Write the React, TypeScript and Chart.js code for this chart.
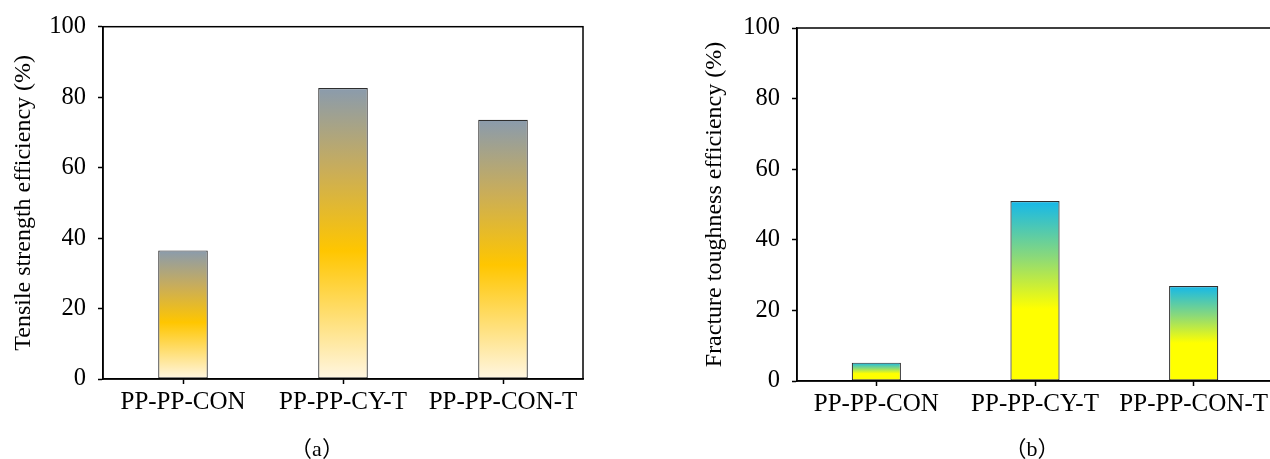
import React, { useEffect, useRef } from "react";
import { Chart, registerables } from "chart.js";

Chart.register(...registerables);

const categories = ["PP-PP-CON", "PP-PP-CY-T", "PP-PP-CON-T"];
const tensileEfficiency = [36.5, 82.6, 73.6];
const toughnessEfficiency = [5.2, 51.0, 26.9];
const yTicksMin = 0;
const yTicksMax = 100;
const yTickStep = 20;
const titleA = "Tensile strength efficiency (%)";
const titleB = "Fracture toughness efficiency (%)";
const captionA = "（a）";
const captionB = "（b）";

const gradA: [number, string][] = [
  [0, "#fff6e2"],
  [0.44, "#ffc600"],
  [0.72, "#c9ad5a"],
  [1, "#8a9bad"],
];
const gradB: [number, string][] = [
  [0, "#ffff00"],
  [0.4, "#ffff00"],
  [0.69, "#8ad97a"],
  [1, "#14b8ea"],
];

const SERIF = "'Liberation Serif', 'Times New Roman', serif";

const borderPlugin = {
  id: "boxBorder",
  afterDraw(chart: any) {
    const { ctx, chartArea } = chart;
    ctx.save();
    ctx.strokeStyle = "#000";
    ctx.lineWidth = 1.5;
    ctx.strokeRect(chartArea.left, chartArea.top, chartArea.right - chartArea.left, chartArea.bottom - chartArea.top);
    ctx.restore();
  },
};

function makeConfig(values: number[], title: string, stops: [number, string][], pad: any, yWidth: number, xHeight: number) {
  return {
    type: "bar" as const,
    data: {
      labels: categories,
      datasets: [
        {
          data: values,
          backgroundColor: (c: any) => {
            const chart = c.chart;
            const ys = chart.scales && chart.scales.y;
            if (!chart.chartArea || !ys || c.parsed == null) return stops[1][1];
            const top = ys.getPixelForValue(c.parsed.y);
            const bottom = ys.getPixelForValue(0);
            const g = chart.ctx.createLinearGradient(0, bottom, 0, top);
            stops.forEach(([p, col]) => g.addColorStop(p, col));
            return g;
          },
          borderColor: "#2e2e2e",
          borderWidth: 1.2,
          borderSkipped: false,
          barPercentage: 0.31,
          categoryPercentage: 1,
        },
      ],
    },
    options: {
      animation: false,
      responsive: false,
      devicePixelRatio: 1,
      layout: { padding: pad },
      plugins: { legend: { display: false }, tooltip: { enabled: false } },
      scales: {
        x: {
          offset: true,
          grid: {
            offset: false,
            drawOnChartArea: false,
            drawTicks: true,
            tickLength: 5,
            tickWidth: 1.5,
            tickColor: "#000",
          },
          border: { color: "#000", width: 1.5 },
          ticks: { color: "#000", font: { family: SERIF, size: 25 }, padding: 3, maxRotation: 0, autoSkip: false },
          afterFit: (s: any) => {
            s.height = xHeight;
          },
        },
        y: {
          min: yTicksMin,
          max: yTicksMax,
          grid: {
            drawOnChartArea: false,
            drawTicks: true,
            tickLength: 5,
            tickWidth: 1.5,
            tickColor: "#000",
          },
          border: { color: "#000", width: 1.5 },
          ticks: { stepSize: yTickStep, color: "#000", font: { family: SERIF, size: 24.5 }, padding: 12 },
          title: { display: true, text: title, color: "#000", font: { family: SERIF, size: 24 } },
          afterFit: (s: any) => {
            s.width = yWidth;
          },
        },
      },
    },
    plugins: [borderPlugin],
  };
}

function ChartCanvas({ cfg, left, width }: { cfg: any; left: number; width: number }) {
  const ref = useRef<HTMLCanvasElement>(null);
  useEffect(() => {
    if (!ref.current) return;
    const ch = new Chart(ref.current, cfg);
    return () => ch.destroy();
  }, []);
  return (
    <canvas
      ref={ref}
      width={width}
      height={459}
      style={{ position: "absolute", left, top: 0, width, height: 459 }}
    />
  );
}

export default function App() {
  const cfgA = makeConfig(tensileEfficiency, titleA, gradA, { left: 5, top: 23, right: 57, bottom: 0 }, 98, 80);
  const cfgB = makeConfig(toughnessEfficiency, titleB, gradB, { left: 56, top: 28, right: 7, bottom: 0 }, 101, 78);
  const capStyle: React.CSSProperties = {
    position: "absolute",
    top: 436,
    fontFamily: "'Liberation Serif', 'Noto Sans CJK SC', serif",
    fontSize: 22,
    color: "#000",
    lineHeight: "26px",
    transform: "translateX(-50%)",
    whiteSpace: "nowrap",
  };
  return (
    <div style={{ position: "fixed", left: 0, top: 0, width: 1270, height: 459, overflow: "hidden", background: "#fff" }}>
      <ChartCanvas cfg={cfgA} left={0} width={640} />
      <ChartCanvas cfg={cfgB} left={640} width={640} />
      <div style={{ ...capStyle, left: 317 }}>{captionA}</div>
      <div style={{ ...capStyle, left: 1032 }}>{captionB}</div>
    </div>
  );
}
